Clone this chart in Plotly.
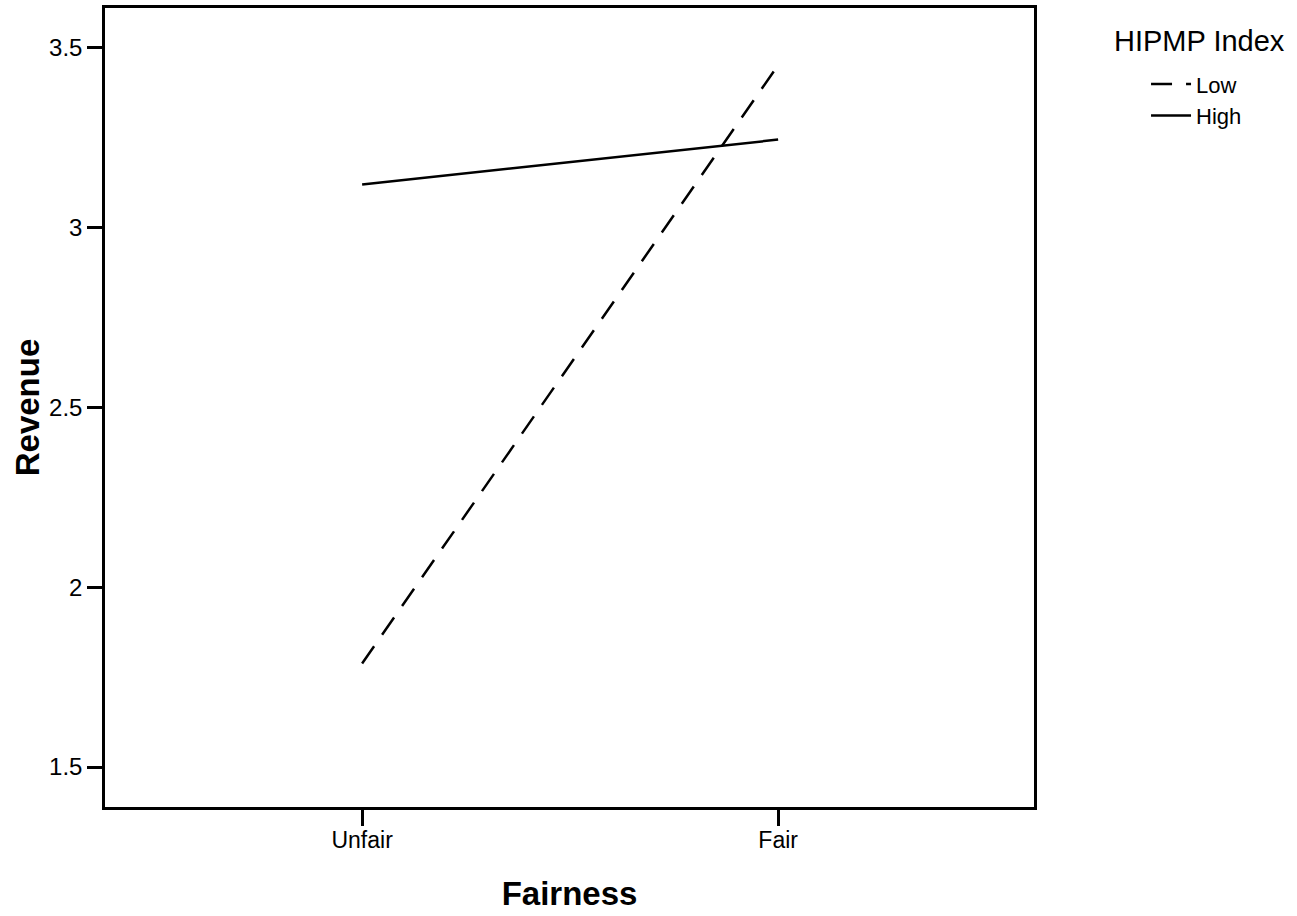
import plotly.graph_objects as go

categories = ["Unfair", "Fair"]
low_values = [1.788, 3.452]
high_values = [3.12, 3.245]
series_names = ["Low", "High"]
y_tick_vals = [1.5, 2, 2.5, 3, 3.5]
y_tick_text = ["1.5", "2", "2.5", "3", "3.5"]

fig = go.Figure()
fig.add_trace(go.Scatter(
    x=[0, 1], y=low_values, mode="lines", name=series_names[0],
    line=dict(color="black", width=2.5, dash="21px,14px"),
))
fig.add_trace(go.Scatter(
    x=[0, 1], y=high_values, mode="lines", name=series_names[1],
    line=dict(color="black", width=2.5),
))

font_family = "Liberation Sans, Arial, sans-serif"
fig.update_layout(
    width=1297, height=916,
    margin=dict(l=105, r=263, t=5, b=109),
    paper_bgcolor="white", plot_bgcolor="white",
    font=dict(family=font_family, color="black", size=16),
    showlegend=True,
    legend=dict(
        x=1.1206, xanchor="left", xref="paper",
        y=0.931, yanchor="top",
        font=dict(size=22, family=font_family, color="black"),
        tracegroupgap=0, itemwidth=40,
        bgcolor="rgba(0,0,0,0)",
        traceorder="normal",
    ),
    xaxis=dict(
        range=[-0.618, 1.615],
        tickmode="array", tickvals=[0, 1], ticktext=categories,
        ticks="outside", ticklen=16, tickwidth=2.5, tickcolor="black",
        showline=True, linecolor="black", linewidth=2.5, mirror=True,
        showgrid=False, zeroline=False,
        tickfont=dict(size=23), ticklabelstandoff=-5,
        title=dict(text="<b>Fairness</b>", font=dict(size=33), standoff=30),
    ),
    yaxis=dict(
        range=[1.389, 3.611],
        tickmode="array", tickvals=y_tick_vals, ticktext=y_tick_text,
        ticks="outside", ticklen=15, tickwidth=2.5, tickcolor="black",
        showline=True, linecolor="black", linewidth=2.5, mirror=True,
        showgrid=False, zeroline=False,
        tickfont=dict(size=24),
        title=dict(text="<b>Revenue</b>", font=dict(size=33), standoff=0),
    ),
    annotations=[dict(
        text="HIPMP Index", xref="paper", yref="paper",
        x=1.0 + (1112 - 1034) / 929, y=1 - (38 - 5) / 802,
        xanchor="left", yanchor="middle", showarrow=False,
        font=dict(size=29, family=font_family, color="black"),
    )],
)

fig.write_html("out.html", config={"displayModeBar": False},
               post_script="document.body.style.margin='0';")
